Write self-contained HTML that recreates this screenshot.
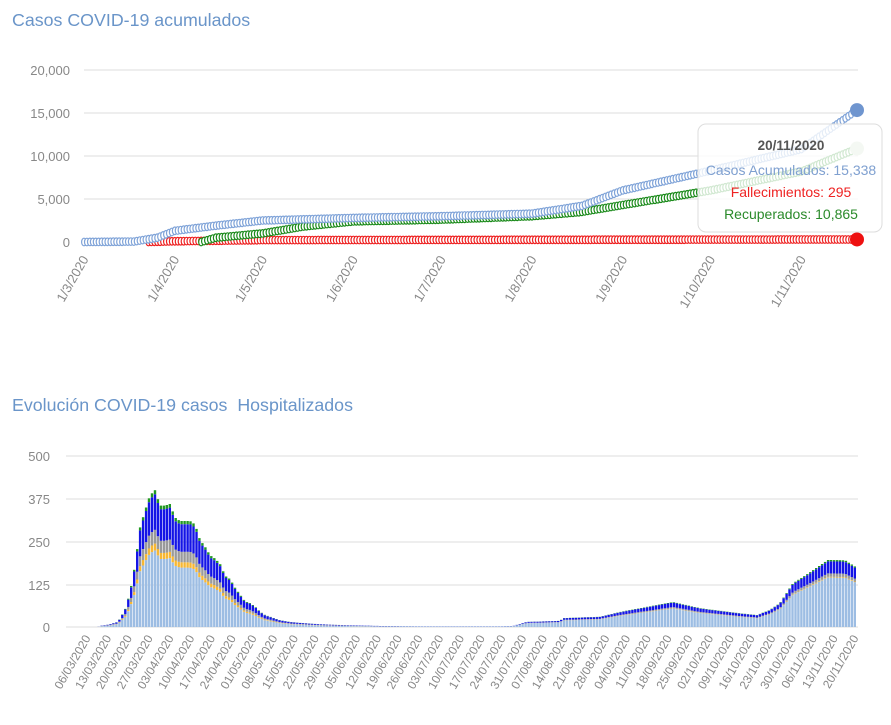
<!DOCTYPE html>
<html><head><meta charset="utf-8"><style>
body{margin:0;background:#fff;width:891px;height:720px;overflow:hidden;font-family:"Liberation Sans",sans-serif}
svg text{font-family:"Liberation Sans",sans-serif}
</style></head><body>
<svg id="s" width="891" height="720" xmlns="http://www.w3.org/2000/svg">
<text x="12" y="26" font-size="17.8" fill="#6a95c9">Casos COVID-19 acumulados</text>
<text x="12" y="411" font-size="17.8" fill="#6a95c9">Evolución COVID-19 casos &#160;Hospitalizados</text>
<g id="g1"></g><g id="g2"></g>
<rect x="698" y="124" width="184" height="108" rx="8" fill="#fff" fill-opacity="0.8" stroke="#ddd"/>
<text x="791" y="150" font-size="13.5" font-weight="bold" fill="#555" text-anchor="middle">20/11/2020</text>
<text x="791" y="175" font-size="14" fill="#7fa0d0" text-anchor="middle">Casos Acumulados: 15,338</text>
<text x="791" y="197" font-size="14" fill="#ee2222" text-anchor="middle">Fallecimientos: 295</text>
<text x="791" y="219" font-size="14" fill="#2a8a2a" text-anchor="middle">Recuperados: 10,865</text>
</svg>
<script>
function interp(pts,d){if(d<=pts[0][0])return pts[0][1];for(var i=0;i<pts.length-1;i++){if(d<=pts[i+1][0]){var a=pts[i],b=pts[i+1];var t=(d-a[0])/(b[0]-a[0]);return a[1]+t*(b[1]-a[1]);}}return pts[pts.length-1][1];}
var h='';
var gy=[70,113,156,199,242],gl=['20,000','15,000','10,000','5,000','0'];
for(var i=0;i<5;i++){h+='<line x1="84" x2="858" y1="'+gy[i]+'" y2="'+gy[i]+'" stroke="#ddd"/>';h+='<text x="70" y="'+(gy[i]+5)+'" font-size="13" fill="#888" text-anchor="end">'+gl[i]+'</text>';}
var pd=(857-84)/264;
var months=[['1/3/2020',0],['1/4/2020',31],['1/5/2020',61],['1/6/2020',92],['1/7/2020',122],['1/8/2020',153],['1/9/2020',184],['1/10/2020',214],['1/11/2020',245]];
months.forEach(function(m){var x=84+m[1]*pd;h+='<text transform="translate('+(x+5)+',259) rotate(-60)" font-size="13" fill="#888" text-anchor="end">'+m[0]+'</text>';});
var blue=[[0,0],[17,50],[25,500],[31,1300],[45,1900],[61,2500],[92,2800],[122,3000],[153,3300],[170,4200],[184,6000],[214,8300],[245,10800],[264,15338]];
var green=[[0,0],[40,0],[45,500],[61,1000],[75,1800],[92,2400],[122,2600],[153,3000],[170,3500],[184,4300],[214,6000],[245,8200],[264,10865]];
var red=[[0,0],[22,0],[30,80],[61,220],[264,295]];
var ys=172/20000;
function series(pts,col,start){var s='';for(var d=start;d<264;d++){var x=84+d*pd,y=242-interp(pts,d)*ys;s+='<ellipse cx="'+x.toFixed(1)+'" cy="'+y.toFixed(1)+'" rx="2.4" ry="3.8" fill="#fff" stroke="'+col+'" stroke-width="1.2"/>';}return s;}
h+=series(red,'#ee2020',22);h+=series(green,'#1a8a1a',40);h+=series(blue,'#7fa3d8',0);
h+='<circle cx="857" cy="'+(242-15338*ys)+'" r="7" fill="#6f95cf"/>';
h+='<circle cx="857" cy="'+(242-10865*ys)+'" r="7" fill="#c8dcc0"/>';
h+='<circle cx="857" cy="'+(242-295*ys)+'" r="7" fill="#ee1111"/>';
document.getElementById('g1').innerHTML=h;
h='';
var by=[456,499,542,585,627],bl=['500','375','250','125','0'];
for(i=0;i<5;i++){h+='<line x1="66" x2="858" y1="'+by[i]+'" y2="'+by[i]+'" stroke="#ddd"/>';h+='<text x="50" y="'+(by[i]+5)+'" font-size="13" fill="#888" text-anchor="end">'+bl[i]+'</text>';}
var bd=(856-88)/259,sc=171/500;
var tot=[[66,0],[98,0],[100,3],[110,8],[118,15],[125,50],[130,100],[135,180],[140,290],[145,340],[150,385],[155,400],[160,355],[165,355],[170,360],[175,320],[180,310],[190,310],[195,300],[200,255],[205,235],[210,210],[215,200],[220,185],[225,150],[230,140],[235,115],[240,95],[245,75],[250,70],[255,60],[260,45],[265,35],[270,30],[280,20],[290,15],[300,12],[320,8],[350,5],[380,3],[420,2],[500,2],[513,3],[527,15],[560,18],[563,26],[600,30],[620,44],[640,55],[673,73],[700,55],[740,40],[757,35],[770,50],[780,70],[793,128],[805,150],[815,170],[828,196],[845,195],[856,175]];
for(var x=66;x<=856;x+=bd){var t=interp(tot,x);var y0=627;
 var first=x<400;
 var parts=first?[[0.56,'#9dbde3'],[0.05,'#f7b733'],[0.1,'#9a9a9a'],[0.26,'#1414e6'],[0.03,'#229922']]:[[0.74,'#9dbde3'],[0.01,'#f7b733'],[0.05,'#9a9a9a'],[0.18,'#1414e6'],[0.02,'#229922']];
 parts.forEach(function(p){var hh=t*p[0]*sc;y0-=hh;h+='<rect x="'+(x-1.2).toFixed(1)+'" y="'+y0.toFixed(1)+'" width="2.4" height="'+hh.toFixed(2)+'" fill="'+p[1]+'"/>';});}
var start=new Date(2020,2,6,12);
for(var d=0;d<=259;d+=7){var dt=new Date(start.getTime()+d*86400000);var lab=('0'+dt.getDate()).slice(-2)+'/'+('0'+(dt.getMonth()+1)).slice(-2)+'/2020';var xx=88+d*bd;h+='<text transform="translate('+(xx+3)+',638) rotate(-60)" font-size="12" fill="#888" text-anchor="end">'+lab+'</text>';}
document.getElementById('g2').innerHTML=h;
</script>
</body></html>
